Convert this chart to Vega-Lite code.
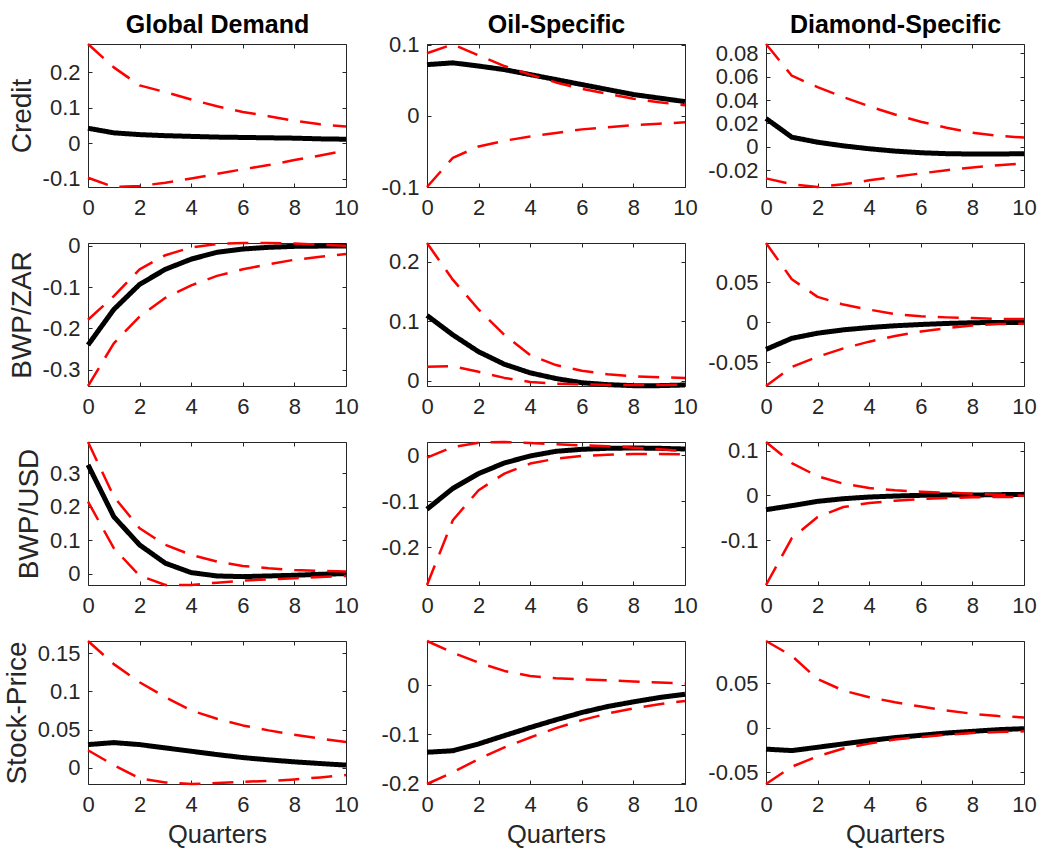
{
"$schema": "https://vega.github.io/schema/vega-lite/v6.json",
"padding": {"left": 2, "top": 12, "right": 2, "bottom": 2},
"data": {"values": [
{"v":"Credit","s":"GD","q":0,"m":0.042,"lo":-0.098,"hi":0.28},
{"v":"Credit","s":"GD","q":1,"m":0.029,"lo":-0.124,"hi":0.214},
{"v":"Credit","s":"GD","q":2,"m":0.024,"lo":-0.121,"hi":0.163},
{"v":"Credit","s":"GD","q":3,"m":0.021,"lo":-0.112,"hi":0.144},
{"v":"Credit","s":"GD","q":4,"m":0.019,"lo":-0.100,"hi":0.123},
{"v":"Credit","s":"GD","q":5,"m":0.017,"lo":-0.087,"hi":0.104},
{"v":"Credit","s":"GD","q":6,"m":0.016,"lo":-0.074,"hi":0.088},
{"v":"Credit","s":"GD","q":7,"m":0.015,"lo":-0.062,"hi":0.076},
{"v":"Credit","s":"GD","q":8,"m":0.014,"lo":-0.048,"hi":0.063},
{"v":"Credit","s":"GD","q":9,"m":0.012,"lo":-0.035,"hi":0.053},
{"v":"Credit","s":"GD","q":10,"m":0.011,"lo":-0.021,"hi":0.047},
{"v":"Credit","s":"OS","q":0,"m":0.072,"lo":-0.1,"hi":0.088},
{"v":"Credit","s":"OS","q":1,"m":0.0745,"lo":-0.059,"hi":0.1005},
{"v":"Credit","s":"OS","q":2,"m":0.070,"lo":-0.043,"hi":0.085},
{"v":"Credit","s":"OS","q":3,"m":0.065,"lo":-0.035,"hi":0.070},
{"v":"Credit","s":"OS","q":4,"m":0.058,"lo":-0.029,"hi":0.058},
{"v":"Credit","s":"OS","q":5,"m":0.051,"lo":-0.024,"hi":0.047},
{"v":"Credit","s":"OS","q":6,"m":0.044,"lo":-0.019,"hi":0.038},
{"v":"Credit","s":"OS","q":7,"m":0.037,"lo":-0.016,"hi":0.031},
{"v":"Credit","s":"OS","q":8,"m":0.030,"lo":-0.013,"hi":0.024},
{"v":"Credit","s":"OS","q":9,"m":0.025,"lo":-0.011,"hi":0.019},
{"v":"Credit","s":"OS","q":10,"m":0.020,"lo":-0.009,"hi":0.015},
{"v":"Credit","s":"DS","q":0,"m":0.0242,"lo":-0.027,"hi":0.0879},
{"v":"Credit","s":"DS","q":1,"m":0.0082,"lo":-0.032,"hi":0.0608},
{"v":"Credit","s":"DS","q":2,"m":0.0039,"lo":-0.0344,"hi":0.051},
{"v":"Credit","s":"DS","q":3,"m":0.0008,"lo":-0.032,"hi":0.0425},
{"v":"Credit","s":"DS","q":4,"m":-0.0017,"lo":-0.0287,"hi":0.0346},
{"v":"Credit","s":"DS","q":5,"m":-0.0037,"lo":-0.0256,"hi":0.0276},
{"v":"Credit","s":"DS","q":6,"m":-0.0051,"lo":-0.0228,"hi":0.0214},
{"v":"Credit","s":"DS","q":7,"m":-0.0059,"lo":-0.020,"hi":0.0163},
{"v":"Credit","s":"DS","q":8,"m":-0.0062,"lo":-0.0177,"hi":0.0121},
{"v":"Credit","s":"DS","q":9,"m":-0.0062,"lo":-0.0158,"hi":0.0093},
{"v":"Credit","s":"DS","q":10,"m":-0.0059,"lo":-0.0141,"hi":0.0079},
{"v":"BWP/ZAR","s":"GD","q":0,"m":-0.240,"lo":-0.339,"hi":-0.179},
{"v":"BWP/ZAR","s":"GD","q":1,"m":-0.154,"lo":-0.236,"hi":-0.122},
{"v":"BWP/ZAR","s":"GD","q":2,"m":-0.0935,"lo":-0.171,"hi":-0.057},
{"v":"BWP/ZAR","s":"GD","q":3,"m":-0.057,"lo":-0.126,"hi":-0.023},
{"v":"BWP/ZAR","s":"GD","q":4,"m":-0.0325,"lo":-0.096,"hi":-0.004},
{"v":"BWP/ZAR","s":"GD","q":5,"m":-0.016,"lo":-0.073,"hi":0.004},
{"v":"BWP/ZAR","s":"GD","q":6,"m":-0.008,"lo":-0.057,"hi":0.0065},
{"v":"BWP/ZAR","s":"GD","q":7,"m":-0.004,"lo":-0.045,"hi":0.0065},
{"v":"BWP/ZAR","s":"GD","q":8,"m":-0.0016,"lo":-0.034,"hi":0.005},
{"v":"BWP/ZAR","s":"GD","q":9,"m":-0.001,"lo":-0.027,"hi":0.0024},
{"v":"BWP/ZAR","s":"GD","q":10,"m":-0.0008,"lo":-0.020,"hi":0.0},
{"v":"BWP/ZAR","s":"OS","q":0,"m":0.110,"lo":0.0237,"hi":0.2316},
{"v":"BWP/ZAR","s":"OS","q":1,"m":0.0774,"lo":0.0249,"hi":0.170},
{"v":"BWP/ZAR","s":"OS","q":2,"m":0.049,"lo":0.0153,"hi":0.120},
{"v":"BWP/ZAR","s":"OS","q":3,"m":0.028,"lo":0.0051,"hi":0.0774},
{"v":"BWP/ZAR","s":"OS","q":4,"m":0.0136,"lo":-0.0017,"hi":0.0435},
{"v":"BWP/ZAR","s":"OS","q":5,"m":0.004,"lo":-0.0045,"hi":0.0266},
{"v":"BWP/ZAR","s":"OS","q":6,"m":-0.003,"lo":-0.0056,"hi":0.017},
{"v":"BWP/ZAR","s":"OS","q":7,"m":-0.0062,"lo":-0.0068,"hi":0.0113},
{"v":"BWP/ZAR","s":"OS","q":8,"m":-0.0079,"lo":-0.0068,"hi":0.0079},
{"v":"BWP/ZAR","s":"OS","q":9,"m":-0.0079,"lo":-0.0068,"hi":0.0062},
{"v":"BWP/ZAR","s":"OS","q":10,"m":-0.0068,"lo":-0.0062,"hi":0.0051},
{"v":"BWP/ZAR","s":"DS","q":0,"m":-0.0342,"lo":-0.080,"hi":0.099},
{"v":"BWP/ZAR","s":"DS","q":1,"m":-0.0203,"lo":-0.0561,"hi":0.0536},
{"v":"BWP/ZAR","s":"DS","q":2,"m":-0.0139,"lo":-0.0435,"hi":0.0316},
{"v":"BWP/ZAR","s":"DS","q":3,"m":-0.0097,"lo":-0.0329,"hi":0.0219},
{"v":"BWP/ZAR","s":"DS","q":4,"m":-0.0068,"lo":-0.0245,"hi":0.0156},
{"v":"BWP/ZAR","s":"DS","q":5,"m":-0.0046,"lo":-0.0173,"hi":0.0101},
{"v":"BWP/ZAR","s":"DS","q":6,"m":-0.003,"lo":-0.0118,"hi":0.0072},
{"v":"BWP/ZAR","s":"DS","q":7,"m":-0.0017,"lo":-0.0076,"hi":0.0059},
{"v":"BWP/ZAR","s":"DS","q":8,"m":-0.0008,"lo":-0.0042,"hi":0.0051},
{"v":"BWP/ZAR","s":"DS","q":9,"m":-0.0004,"lo":-0.0025,"hi":0.0038},
{"v":"BWP/ZAR","s":"DS","q":10,"m":-0.0004,"lo":-0.0021,"hi":0.0038},
{"v":"BWP/USD","s":"GD","q":0,"m":0.325,"lo":0.215,"hi":0.393},
{"v":"BWP/USD","s":"GD","q":1,"m":0.170,"lo":0.0758,"hi":0.230},
{"v":"BWP/USD","s":"GD","q":2,"m":0.0857,"lo":-0.006,"hi":0.1356},
{"v":"BWP/USD","s":"GD","q":3,"m":0.031,"lo":-0.034,"hi":0.0857},
{"v":"BWP/USD","s":"GD","q":4,"m":0.003,"lo":-0.034,"hi":0.0558},
{"v":"BWP/USD","s":"GD","q":5,"m":-0.007,"lo":-0.027,"hi":0.0359},
{"v":"BWP/USD","s":"GD","q":6,"m":-0.009,"lo":-0.021,"hi":0.0229},
{"v":"BWP/USD","s":"GD","q":7,"m":-0.007,"lo":-0.017,"hi":0.016},
{"v":"BWP/USD","s":"GD","q":8,"m":-0.005,"lo":-0.014,"hi":0.011},
{"v":"BWP/USD","s":"GD","q":9,"m":-0.002,"lo":-0.010,"hi":0.008},
{"v":"BWP/USD","s":"GD","q":10,"m":0.0,"lo":-0.007,"hi":0.006},
{"v":"BWP/USD","s":"OS","q":0,"m":-0.117,"lo":-0.2816,"hi":-0.005},
{"v":"BWP/USD","s":"OS","q":1,"m":-0.072,"lo":-0.141,"hi":0.018},
{"v":"BWP/USD","s":"OS","q":2,"m":-0.0397,"lo":-0.0758,"hi":0.0274},
{"v":"BWP/USD","s":"OS","q":3,"m":-0.0166,"lo":-0.0397,"hi":0.0289},
{"v":"BWP/USD","s":"OS","q":4,"m":-0.0014,"lo":-0.018,"hi":0.0267},
{"v":"BWP/USD","s":"OS","q":5,"m":0.0087,"lo":-0.0072,"hi":0.0238},
{"v":"BWP/USD","s":"OS","q":6,"m":0.013,"lo":-0.0014,"hi":0.0217},
{"v":"BWP/USD","s":"OS","q":7,"m":0.0152,"lo":0.0014,"hi":0.0195},
{"v":"BWP/USD","s":"OS","q":8,"m":0.0159,"lo":0.0029,"hi":0.0166},
{"v":"BWP/USD","s":"OS","q":9,"m":0.0152,"lo":0.0029,"hi":0.013},
{"v":"BWP/USD","s":"OS","q":10,"m":0.0137,"lo":0.0022,"hi":0.0094},
{"v":"BWP/USD","s":"DS","q":0,"m":-0.032,"lo":-0.200,"hi":0.119},
{"v":"BWP/USD","s":"DS","q":1,"m":-0.023,"lo":-0.0955,"hi":0.072},
{"v":"BWP/USD","s":"DS","q":2,"m":-0.0134,"lo":-0.0485,"hi":0.0425},
{"v":"BWP/USD","s":"DS","q":3,"m":-0.0075,"lo":-0.026,"hi":0.026},
{"v":"BWP/USD","s":"DS","q":4,"m":-0.0037,"lo":-0.0172,"hi":0.0164},
{"v":"BWP/USD","s":"DS","q":5,"m":-0.0015,"lo":-0.012,"hi":0.0112},
{"v":"BWP/USD","s":"DS","q":6,"m":0.0,"lo":-0.0082,"hi":0.0082},
{"v":"BWP/USD","s":"DS","q":7,"m":0.0007,"lo":-0.006,"hi":0.006},
{"v":"BWP/USD","s":"DS","q":8,"m":0.0007,"lo":-0.0045,"hi":0.0037},
{"v":"BWP/USD","s":"DS","q":9,"m":0.0015,"lo":-0.0037,"hi":0.0015},
{"v":"BWP/USD","s":"DS","q":10,"m":0.0022,"lo":-0.0037,"hi":-0.0007},
{"v":"Stock-Price","s":"GD","q":0,"m":0.0304,"lo":0.023,"hi":0.166},
{"v":"Stock-Price","s":"GD","q":1,"m":0.033,"lo":0.0035,"hi":0.1357},
{"v":"Stock-Price","s":"GD","q":2,"m":0.0304,"lo":-0.0139,"hi":0.112},
{"v":"Stock-Price","s":"GD","q":3,"m":0.026,"lo":-0.0191,"hi":0.0924},
{"v":"Stock-Price","s":"GD","q":4,"m":0.0217,"lo":-0.0212,"hi":0.075},
{"v":"Stock-Price","s":"GD","q":5,"m":0.0173,"lo":-0.020,"hi":0.0642},
{"v":"Stock-Price","s":"GD","q":6,"m":0.0134,"lo":-0.0182,"hi":0.0555},
{"v":"Stock-Price","s":"GD","q":7,"m":0.0104,"lo":-0.0173,"hi":0.049},
{"v":"Stock-Price","s":"GD","q":8,"m":0.0078,"lo":-0.0152,"hi":0.0434},
{"v":"Stock-Price","s":"GD","q":9,"m":0.0056,"lo":-0.0126,"hi":0.0382},
{"v":"Stock-Price","s":"GD","q":10,"m":0.0035,"lo":-0.0095,"hi":0.0338},
{"v":"Stock-Price","s":"OS","q":0,"m":-0.137,"lo":-0.202,"hi":0.0905},
{"v":"Stock-Price","s":"OS","q":1,"m":-0.134,"lo":-0.178,"hi":0.0667},
{"v":"Stock-Price","s":"OS","q":2,"m":-0.120,"lo":-0.151,"hi":0.0463},
{"v":"Stock-Price","s":"OS","q":3,"m":-0.103,"lo":-0.127,"hi":0.0293},
{"v":"Stock-Price","s":"OS","q":4,"m":-0.0864,"lo":-0.1068,"hi":0.019},
{"v":"Stock-Price","s":"OS","q":5,"m":-0.0707,"lo":-0.0878,"hi":0.0143},
{"v":"Stock-Price","s":"OS","q":6,"m":-0.0558,"lo":-0.0714,"hi":0.0122},
{"v":"Stock-Price","s":"OS","q":7,"m":-0.0435,"lo":-0.0578,"hi":0.0102},
{"v":"Stock-Price","s":"OS","q":8,"m":-0.034,"lo":-0.0476,"hi":0.0075},
{"v":"Stock-Price","s":"OS","q":9,"m":-0.0252,"lo":-0.0388,"hi":0.0054},
{"v":"Stock-Price","s":"OS","q":10,"m":-0.0184,"lo":-0.032,"hi":0.0034},
{"v":"Stock-Price","s":"DS","q":0,"m":-0.024,"lo":-0.063,"hi":0.097},
{"v":"Stock-Price","s":"DS","q":1,"m":-0.0256,"lo":-0.0437,"hi":0.0804},
{"v":"Stock-Price","s":"DS","q":2,"m":-0.0219,"lo":-0.0319,"hi":0.0544},
{"v":"Stock-Price","s":"DS","q":3,"m":-0.0181,"lo":-0.0233,"hi":0.0415},
{"v":"Stock-Price","s":"DS","q":4,"m":-0.0144,"lo":-0.0178,"hi":0.0341},
{"v":"Stock-Price","s":"DS","q":5,"m":-0.0111,"lo":-0.0133,"hi":0.0285},
{"v":"Stock-Price","s":"DS","q":6,"m":-0.0085,"lo":-0.0104,"hi":0.0237},
{"v":"Stock-Price","s":"DS","q":7,"m":-0.0059,"lo":-0.0078,"hi":0.0193},
{"v":"Stock-Price","s":"DS","q":8,"m":-0.0041,"lo":-0.0059,"hi":0.0156},
{"v":"Stock-Price","s":"DS","q":9,"m":-0.0022,"lo":-0.0048,"hi":0.013},
{"v":"Stock-Price","s":"DS","q":10,"m":-0.0011,"lo":-0.0041,"hi":0.0115}
]},
"columns": 3,
"spacing": {"row": 56, "column": 81},
"bounds": "flush",
"concat": [
{"width": 258, "height": 143,
 "transform": [{"filter": "datum.v==='Credit' && datum.s==='GD'"}, {"fold": ["m","lo","hi"], "as": ["b","y"]}],
 "layer": [
  {"mark": {"type": "line"}, "encoding": {
    "x": {"field": "q", "type": "quantitative", "scale": {"domain": [0,10], "nice": false}, "axis": {"orient": "bottom", "values": [0,2,4,6,8,10], "title": null}},
    "y": {"field": "y", "type": "quantitative", "scale": {"domain": [-0.124,0.28], "nice": false, "zero": false}, "axis": {"orient": "left", "values": [-0.1,0,0.1,0.2], "title": "Credit", "labelExpr": "''+datum.value"}},
    "detail": {"field": "b", "type": "nominal"},
    "color": {"condition": {"test": "datum.b==='m'", "value": "#000000"}, "value": "#ff0000"},
    "strokeWidth": {"condition": {"test": "datum.b==='m'", "value": 5}, "value": 2.5},
    "strokeDash": {"condition": {"test": "datum.b==='m'", "value": [1,0]}, "value": [21,12]}}},
  {"mark": {"type": "line", "strokeOpacity": 0}, "encoding": {
    "x": {"field": "q", "type": "quantitative", "scale": {"domain": [0,10], "nice": false}, "axis": {"orient": "top", "values": [0,2,4,6,8,10], "labels": false, "title": "Global Demand", "titleFontWeight": "bold", "titleFontSize": 25, "titleColor": "#000000", "titlePadding": 6}},
    "y": {"field": "y", "type": "quantitative", "scale": {"domain": [-0.124,0.28], "nice": false, "zero": false}, "axis": {"orient": "right", "values": [-0.1,0,0.1,0.2], "labels": false, "title": null}},
    "detail": {"field": "b", "type": "nominal"}}}
 ],
 "resolve": {"axis": {"x": "independent", "y": "independent"}}},
{"width": 258, "height": 143,
 "transform": [{"filter": "datum.v==='Credit' && datum.s==='OS'"}, {"fold": ["m","lo","hi"], "as": ["b","y"]}],
 "layer": [
  {"mark": {"type": "line"}, "encoding": {
    "x": {"field": "q", "type": "quantitative", "scale": {"domain": [0,10], "nice": false}, "axis": {"orient": "bottom", "values": [0,2,4,6,8,10], "title": null}},
    "y": {"field": "y", "type": "quantitative", "scale": {"domain": [-0.1,0.101], "nice": false, "zero": false}, "axis": {"orient": "left", "values": [-0.1,0,0.1], "title": null, "labelExpr": "''+datum.value"}},
    "detail": {"field": "b", "type": "nominal"},
    "color": {"condition": {"test": "datum.b==='m'", "value": "#000000"}, "value": "#ff0000"},
    "strokeWidth": {"condition": {"test": "datum.b==='m'", "value": 5}, "value": 2.5},
    "strokeDash": {"condition": {"test": "datum.b==='m'", "value": [1,0]}, "value": [21,12]}}},
  {"mark": {"type": "line", "strokeOpacity": 0}, "encoding": {
    "x": {"field": "q", "type": "quantitative", "scale": {"domain": [0,10], "nice": false}, "axis": {"orient": "top", "values": [0,2,4,6,8,10], "labels": false, "title": "Oil-Specific", "titleFontWeight": "bold", "titleFontSize": 25, "titleColor": "#000000", "titlePadding": 6}},
    "y": {"field": "y", "type": "quantitative", "scale": {"domain": [-0.1,0.101], "nice": false, "zero": false}, "axis": {"orient": "right", "values": [-0.1,0,0.1], "labels": false, "title": null}},
    "detail": {"field": "b", "type": "nominal"}}}
 ],
 "resolve": {"axis": {"x": "independent", "y": "independent"}}},
{"width": 258, "height": 143,
 "transform": [{"filter": "datum.v==='Credit' && datum.s==='DS'"}, {"fold": ["m","lo","hi"], "as": ["b","y"]}],
 "layer": [
  {"mark": {"type": "line"}, "encoding": {
    "x": {"field": "q", "type": "quantitative", "scale": {"domain": [0,10], "nice": false}, "axis": {"orient": "bottom", "values": [0,2,4,6,8,10], "title": null}},
    "y": {"field": "y", "type": "quantitative", "scale": {"domain": [-0.0344,0.0879], "nice": false, "zero": false}, "axis": {"orient": "left", "values": [-0.02,0,0.02,0.04,0.06,0.08], "title": null, "labelExpr": "''+datum.value"}},
    "detail": {"field": "b", "type": "nominal"},
    "color": {"condition": {"test": "datum.b==='m'", "value": "#000000"}, "value": "#ff0000"},
    "strokeWidth": {"condition": {"test": "datum.b==='m'", "value": 5}, "value": 2.5},
    "strokeDash": {"condition": {"test": "datum.b==='m'", "value": [1,0]}, "value": [21,12]}}},
  {"mark": {"type": "line", "strokeOpacity": 0}, "encoding": {
    "x": {"field": "q", "type": "quantitative", "scale": {"domain": [0,10], "nice": false}, "axis": {"orient": "top", "values": [0,2,4,6,8,10], "labels": false, "title": "Diamond-Specific", "titleFontWeight": "bold", "titleFontSize": 25, "titleColor": "#000000", "titlePadding": 6}},
    "y": {"field": "y", "type": "quantitative", "scale": {"domain": [-0.0344,0.0879], "nice": false, "zero": false}, "axis": {"orient": "right", "values": [-0.02,0,0.02,0.04,0.06,0.08], "labels": false, "title": null}},
    "detail": {"field": "b", "type": "nominal"}}}
 ],
 "resolve": {"axis": {"x": "independent", "y": "independent"}}},
{"width": 258, "height": 143,
 "transform": [{"filter": "datum.v==='BWP/ZAR' && datum.s==='GD'"}, {"fold": ["m","lo","hi"], "as": ["b","y"]}],
 "layer": [
  {"mark": {"type": "line"}, "encoding": {
    "x": {"field": "q", "type": "quantitative", "scale": {"domain": [0,10], "nice": false}, "axis": {"orient": "bottom", "values": [0,2,4,6,8,10], "title": null}},
    "y": {"field": "y", "type": "quantitative", "scale": {"domain": [-0.339,0.0065], "nice": false, "zero": false}, "axis": {"orient": "left", "values": [-0.3,-0.2,-0.1,0], "title": "BWP/ZAR", "labelExpr": "''+datum.value"}},
    "detail": {"field": "b", "type": "nominal"},
    "color": {"condition": {"test": "datum.b==='m'", "value": "#000000"}, "value": "#ff0000"},
    "strokeWidth": {"condition": {"test": "datum.b==='m'", "value": 5}, "value": 2.5},
    "strokeDash": {"condition": {"test": "datum.b==='m'", "value": [1,0]}, "value": [21,12]}}},
  {"mark": {"type": "line", "strokeOpacity": 0}, "encoding": {
    "x": {"field": "q", "type": "quantitative", "scale": {"domain": [0,10], "nice": false}, "axis": {"orient": "top", "values": [0,2,4,6,8,10], "labels": false, "title": null}},
    "y": {"field": "y", "type": "quantitative", "scale": {"domain": [-0.339,0.0065], "nice": false, "zero": false}, "axis": {"orient": "right", "values": [-0.3,-0.2,-0.1,0], "labels": false, "title": null}},
    "detail": {"field": "b", "type": "nominal"}}}
 ],
 "resolve": {"axis": {"x": "independent", "y": "independent"}}},
{"width": 258, "height": 143,
 "transform": [{"filter": "datum.v==='BWP/ZAR' && datum.s==='OS'"}, {"fold": ["m","lo","hi"], "as": ["b","y"]}],
 "layer": [
  {"mark": {"type": "line"}, "encoding": {
    "x": {"field": "q", "type": "quantitative", "scale": {"domain": [0,10], "nice": false}, "axis": {"orient": "bottom", "values": [0,2,4,6,8,10], "title": null}},
    "y": {"field": "y", "type": "quantitative", "scale": {"domain": [-0.0085,0.2316], "nice": false, "zero": false}, "axis": {"orient": "left", "values": [0,0.1,0.2], "title": null, "labelExpr": "''+datum.value"}},
    "detail": {"field": "b", "type": "nominal"},
    "color": {"condition": {"test": "datum.b==='m'", "value": "#000000"}, "value": "#ff0000"},
    "strokeWidth": {"condition": {"test": "datum.b==='m'", "value": 5}, "value": 2.5},
    "strokeDash": {"condition": {"test": "datum.b==='m'", "value": [1,0]}, "value": [21,12]}}},
  {"mark": {"type": "line", "strokeOpacity": 0}, "encoding": {
    "x": {"field": "q", "type": "quantitative", "scale": {"domain": [0,10], "nice": false}, "axis": {"orient": "top", "values": [0,2,4,6,8,10], "labels": false, "title": null}},
    "y": {"field": "y", "type": "quantitative", "scale": {"domain": [-0.0085,0.2316], "nice": false, "zero": false}, "axis": {"orient": "right", "values": [0,0.1,0.2], "labels": false, "title": null}},
    "detail": {"field": "b", "type": "nominal"}}}
 ],
 "resolve": {"axis": {"x": "independent", "y": "independent"}}},
{"width": 258, "height": 143,
 "transform": [{"filter": "datum.v==='BWP/ZAR' && datum.s==='DS'"}, {"fold": ["m","lo","hi"], "as": ["b","y"]}],
 "layer": [
  {"mark": {"type": "line"}, "encoding": {
    "x": {"field": "q", "type": "quantitative", "scale": {"domain": [0,10], "nice": false}, "axis": {"orient": "bottom", "values": [0,2,4,6,8,10], "title": null}},
    "y": {"field": "y", "type": "quantitative", "scale": {"domain": [-0.080,0.099], "nice": false, "zero": false}, "axis": {"orient": "left", "values": [-0.05,0,0.05], "title": null, "labelExpr": "''+datum.value"}},
    "detail": {"field": "b", "type": "nominal"},
    "color": {"condition": {"test": "datum.b==='m'", "value": "#000000"}, "value": "#ff0000"},
    "strokeWidth": {"condition": {"test": "datum.b==='m'", "value": 5}, "value": 2.5},
    "strokeDash": {"condition": {"test": "datum.b==='m'", "value": [1,0]}, "value": [21,12]}}},
  {"mark": {"type": "line", "strokeOpacity": 0}, "encoding": {
    "x": {"field": "q", "type": "quantitative", "scale": {"domain": [0,10], "nice": false}, "axis": {"orient": "top", "values": [0,2,4,6,8,10], "labels": false, "title": null}},
    "y": {"field": "y", "type": "quantitative", "scale": {"domain": [-0.080,0.099], "nice": false, "zero": false}, "axis": {"orient": "right", "values": [-0.05,0,0.05], "labels": false, "title": null}},
    "detail": {"field": "b", "type": "nominal"}}}
 ],
 "resolve": {"axis": {"x": "independent", "y": "independent"}}},
{"width": 258, "height": 143,
 "transform": [{"filter": "datum.v==='BWP/USD' && datum.s==='GD'"}, {"fold": ["m","lo","hi"], "as": ["b","y"]}],
 "layer": [
  {"mark": {"type": "line"}, "encoding": {
    "x": {"field": "q", "type": "quantitative", "scale": {"domain": [0,10], "nice": false}, "axis": {"orient": "bottom", "values": [0,2,4,6,8,10], "title": null}},
    "y": {"field": "y", "type": "quantitative", "scale": {"domain": [-0.034,0.393], "nice": false, "zero": false}, "axis": {"orient": "left", "values": [0,0.1,0.2,0.3], "title": "BWP/USD", "labelExpr": "''+datum.value"}},
    "detail": {"field": "b", "type": "nominal"},
    "color": {"condition": {"test": "datum.b==='m'", "value": "#000000"}, "value": "#ff0000"},
    "strokeWidth": {"condition": {"test": "datum.b==='m'", "value": 5}, "value": 2.5},
    "strokeDash": {"condition": {"test": "datum.b==='m'", "value": [1,0]}, "value": [21,12]}}},
  {"mark": {"type": "line", "strokeOpacity": 0}, "encoding": {
    "x": {"field": "q", "type": "quantitative", "scale": {"domain": [0,10], "nice": false}, "axis": {"orient": "top", "values": [0,2,4,6,8,10], "labels": false, "title": null}},
    "y": {"field": "y", "type": "quantitative", "scale": {"domain": [-0.034,0.393], "nice": false, "zero": false}, "axis": {"orient": "right", "values": [0,0.1,0.2,0.3], "labels": false, "title": null}},
    "detail": {"field": "b", "type": "nominal"}}}
 ],
 "resolve": {"axis": {"x": "independent", "y": "independent"}}},
{"width": 258, "height": 143,
 "transform": [{"filter": "datum.v==='BWP/USD' && datum.s==='OS'"}, {"fold": ["m","lo","hi"], "as": ["b","y"]}],
 "layer": [
  {"mark": {"type": "line"}, "encoding": {
    "x": {"field": "q", "type": "quantitative", "scale": {"domain": [0,10], "nice": false}, "axis": {"orient": "bottom", "values": [0,2,4,6,8,10], "title": null}},
    "y": {"field": "y", "type": "quantitative", "scale": {"domain": [-0.2816,0.0289], "nice": false, "zero": false}, "axis": {"orient": "left", "values": [-0.2,-0.1,0], "title": null, "labelExpr": "''+datum.value"}},
    "detail": {"field": "b", "type": "nominal"},
    "color": {"condition": {"test": "datum.b==='m'", "value": "#000000"}, "value": "#ff0000"},
    "strokeWidth": {"condition": {"test": "datum.b==='m'", "value": 5}, "value": 2.5},
    "strokeDash": {"condition": {"test": "datum.b==='m'", "value": [1,0]}, "value": [21,12]}}},
  {"mark": {"type": "line", "strokeOpacity": 0}, "encoding": {
    "x": {"field": "q", "type": "quantitative", "scale": {"domain": [0,10], "nice": false}, "axis": {"orient": "top", "values": [0,2,4,6,8,10], "labels": false, "title": null}},
    "y": {"field": "y", "type": "quantitative", "scale": {"domain": [-0.2816,0.0289], "nice": false, "zero": false}, "axis": {"orient": "right", "values": [-0.2,-0.1,0], "labels": false, "title": null}},
    "detail": {"field": "b", "type": "nominal"}}}
 ],
 "resolve": {"axis": {"x": "independent", "y": "independent"}}},
{"width": 258, "height": 143,
 "transform": [{"filter": "datum.v==='BWP/USD' && datum.s==='DS'"}, {"fold": ["m","lo","hi"], "as": ["b","y"]}],
 "layer": [
  {"mark": {"type": "line"}, "encoding": {
    "x": {"field": "q", "type": "quantitative", "scale": {"domain": [0,10], "nice": false}, "axis": {"orient": "bottom", "values": [0,2,4,6,8,10], "title": null}},
    "y": {"field": "y", "type": "quantitative", "scale": {"domain": [-0.2,0.119], "nice": false, "zero": false}, "axis": {"orient": "left", "values": [-0.1,0,0.1], "title": null, "labelExpr": "''+datum.value"}},
    "detail": {"field": "b", "type": "nominal"},
    "color": {"condition": {"test": "datum.b==='m'", "value": "#000000"}, "value": "#ff0000"},
    "strokeWidth": {"condition": {"test": "datum.b==='m'", "value": 5}, "value": 2.5},
    "strokeDash": {"condition": {"test": "datum.b==='m'", "value": [1,0]}, "value": [21,12]}}},
  {"mark": {"type": "line", "strokeOpacity": 0}, "encoding": {
    "x": {"field": "q", "type": "quantitative", "scale": {"domain": [0,10], "nice": false}, "axis": {"orient": "top", "values": [0,2,4,6,8,10], "labels": false, "title": null}},
    "y": {"field": "y", "type": "quantitative", "scale": {"domain": [-0.2,0.119], "nice": false, "zero": false}, "axis": {"orient": "right", "values": [-0.1,0,0.1], "labels": false, "title": null}},
    "detail": {"field": "b", "type": "nominal"}}}
 ],
 "resolve": {"axis": {"x": "independent", "y": "independent"}}},
{"width": 258, "height": 143,
 "transform": [{"filter": "datum.v==='Stock-Price' && datum.s==='GD'"}, {"fold": ["m","lo","hi"], "as": ["b","y"]}],
 "layer": [
  {"mark": {"type": "line"}, "encoding": {
    "x": {"field": "q", "type": "quantitative", "scale": {"domain": [0,10], "nice": false}, "axis": {"orient": "bottom", "values": [0,2,4,6,8,10], "title": "Quarters"}},
    "y": {"field": "y", "type": "quantitative", "scale": {"domain": [-0.0212,0.166], "nice": false, "zero": false}, "axis": {"orient": "left", "values": [0,0.05,0.1,0.15], "title": "Stock-Price", "labelExpr": "''+datum.value"}},
    "detail": {"field": "b", "type": "nominal"},
    "color": {"condition": {"test": "datum.b==='m'", "value": "#000000"}, "value": "#ff0000"},
    "strokeWidth": {"condition": {"test": "datum.b==='m'", "value": 5}, "value": 2.5},
    "strokeDash": {"condition": {"test": "datum.b==='m'", "value": [1,0]}, "value": [21,12]}}},
  {"mark": {"type": "line", "strokeOpacity": 0}, "encoding": {
    "x": {"field": "q", "type": "quantitative", "scale": {"domain": [0,10], "nice": false}, "axis": {"orient": "top", "values": [0,2,4,6,8,10], "labels": false, "title": null}},
    "y": {"field": "y", "type": "quantitative", "scale": {"domain": [-0.0212,0.166], "nice": false, "zero": false}, "axis": {"orient": "right", "values": [0,0.05,0.1,0.15], "labels": false, "title": null}},
    "detail": {"field": "b", "type": "nominal"}}}
 ],
 "resolve": {"axis": {"x": "independent", "y": "independent"}}},
{"width": 258, "height": 143,
 "transform": [{"filter": "datum.v==='Stock-Price' && datum.s==='OS'"}, {"fold": ["m","lo","hi"], "as": ["b","y"]}],
 "layer": [
  {"mark": {"type": "line"}, "encoding": {
    "x": {"field": "q", "type": "quantitative", "scale": {"domain": [0,10], "nice": false}, "axis": {"orient": "bottom", "values": [0,2,4,6,8,10], "title": "Quarters"}},
    "y": {"field": "y", "type": "quantitative", "scale": {"domain": [-0.202,0.0905], "nice": false, "zero": false}, "axis": {"orient": "left", "values": [-0.2,-0.1,0], "title": null, "labelExpr": "''+datum.value"}},
    "detail": {"field": "b", "type": "nominal"},
    "color": {"condition": {"test": "datum.b==='m'", "value": "#000000"}, "value": "#ff0000"},
    "strokeWidth": {"condition": {"test": "datum.b==='m'", "value": 5}, "value": 2.5},
    "strokeDash": {"condition": {"test": "datum.b==='m'", "value": [1,0]}, "value": [21,12]}}},
  {"mark": {"type": "line", "strokeOpacity": 0}, "encoding": {
    "x": {"field": "q", "type": "quantitative", "scale": {"domain": [0,10], "nice": false}, "axis": {"orient": "top", "values": [0,2,4,6,8,10], "labels": false, "title": null}},
    "y": {"field": "y", "type": "quantitative", "scale": {"domain": [-0.202,0.0905], "nice": false, "zero": false}, "axis": {"orient": "right", "values": [-0.2,-0.1,0], "labels": false, "title": null}},
    "detail": {"field": "b", "type": "nominal"}}}
 ],
 "resolve": {"axis": {"x": "independent", "y": "independent"}}},
{"width": 258, "height": 143,
 "transform": [{"filter": "datum.v==='Stock-Price' && datum.s==='DS'"}, {"fold": ["m","lo","hi"], "as": ["b","y"]}],
 "layer": [
  {"mark": {"type": "line"}, "encoding": {
    "x": {"field": "q", "type": "quantitative", "scale": {"domain": [0,10], "nice": false}, "axis": {"orient": "bottom", "values": [0,2,4,6,8,10], "title": "Quarters"}},
    "y": {"field": "y", "type": "quantitative", "scale": {"domain": [-0.063,0.097], "nice": false, "zero": false}, "axis": {"orient": "left", "values": [-0.05,0,0.05], "title": null, "labelExpr": "''+datum.value"}},
    "detail": {"field": "b", "type": "nominal"},
    "color": {"condition": {"test": "datum.b==='m'", "value": "#000000"}, "value": "#ff0000"},
    "strokeWidth": {"condition": {"test": "datum.b==='m'", "value": 5}, "value": 2.5},
    "strokeDash": {"condition": {"test": "datum.b==='m'", "value": [1,0]}, "value": [21,12]}}},
  {"mark": {"type": "line", "strokeOpacity": 0}, "encoding": {
    "x": {"field": "q", "type": "quantitative", "scale": {"domain": [0,10], "nice": false}, "axis": {"orient": "top", "values": [0,2,4,6,8,10], "labels": false, "title": null}},
    "y": {"field": "y", "type": "quantitative", "scale": {"domain": [-0.063,0.097], "nice": false, "zero": false}, "axis": {"orient": "right", "values": [-0.05,0,0.05], "labels": false, "title": null}},
    "detail": {"field": "b", "type": "nominal"}}}
 ],
 "resolve": {"axis": {"x": "independent", "y": "independent"}}}
],
"config": {
  "font": "Liberation Sans",
  "background": "#ffffff",
  "view": {"stroke": "#262626", "strokeWidth": 1},
  "line": {"strokeCap": "butt", "strokeJoin": "round"},
  "axis": {"grid": false, "domain": false, "ticks": true, "tickSize": -4, "tickColor": "#262626", "tickWidth": 1,
           "labelFont": "Liberation Sans", "labelFontSize": 22, "labelColor": "#262626", "labelFlush": false, "labelOverlap": false, "labelBound": false,
           "titleFont": "Liberation Sans", "titleFontWeight": "normal", "titleColor": "#262626"},
  "axisX": {"labelPadding": 14, "titleFontSize": 25.5, "titlePadding": 7},
  "axisY": {"labelPadding": 12, "titleFontSize": 28, "titlePadding": 6}
}
}
